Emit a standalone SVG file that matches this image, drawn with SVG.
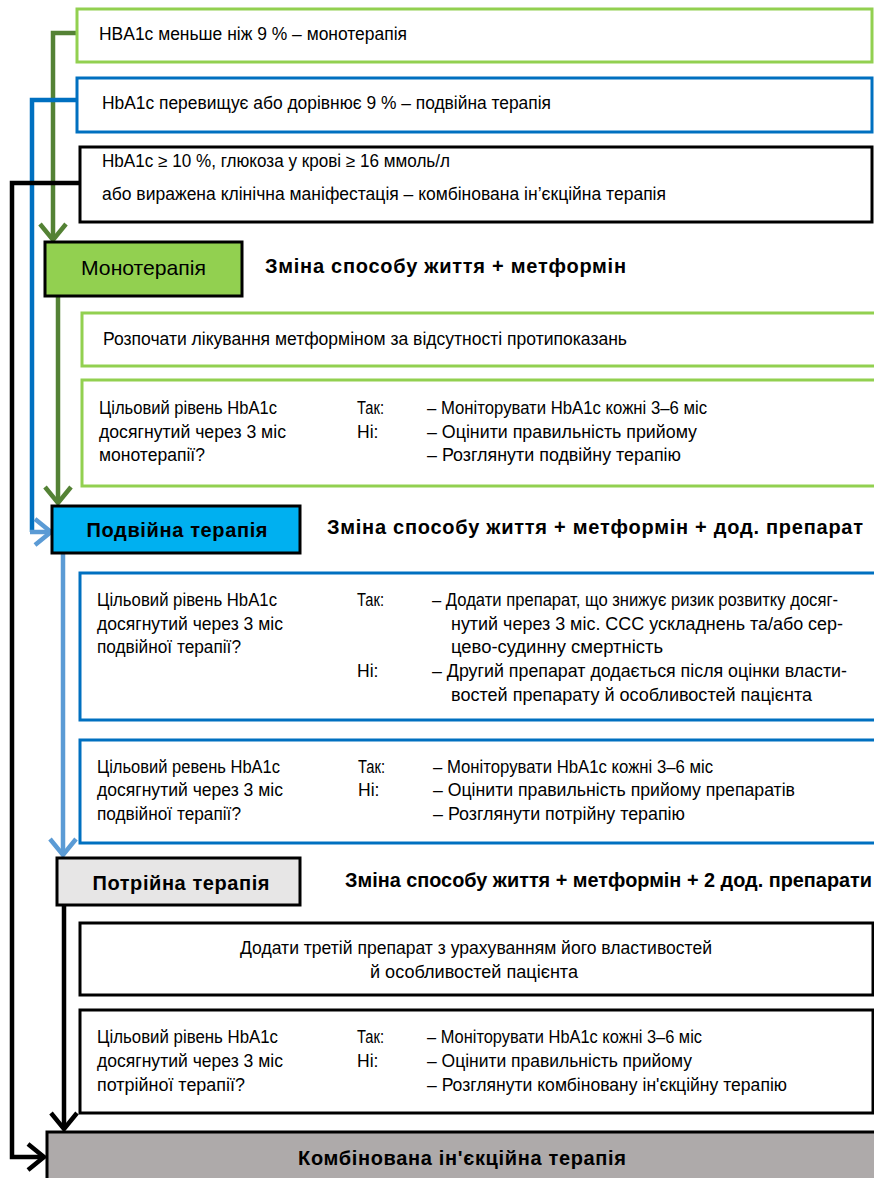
<svg xmlns="http://www.w3.org/2000/svg" width="874" height="1178" viewBox="0 0 874 1178">
<defs>
<style>
text{font-family:"Liberation Sans",Arial,sans-serif;font-size:17.5px;fill:#000}
.b{font-weight:bold;font-size:20px}
.box{fill:#fff;stroke-width:3}
.g{stroke:#92D050}
.bl{stroke:#0070C0}
.k{stroke:#000}
.c{text-anchor:middle}
.ln{fill:none;stroke-width:4.5;stroke-linejoin:miter}
</style>
<marker id="ag" viewBox="0 0 24 30" refX="19" refY="15" markerWidth="24" markerHeight="30" markerUnits="userSpaceOnUse" orient="auto"><path d="M3,2 L19,15 L3,28" fill="none" stroke="#548235" stroke-width="4.5"/></marker>
<marker id="ab" viewBox="0 0 24 30" refX="19" refY="15" markerWidth="24" markerHeight="30" markerUnits="userSpaceOnUse" orient="auto"><path d="M3,2 L19,15 L3,28" fill="none" stroke="#5B9BD5" stroke-width="4.5"/></marker>
<marker id="ak" viewBox="0 0 24 30" refX="19" refY="15" markerWidth="24" markerHeight="30" markerUnits="userSpaceOnUse" orient="auto"><path d="M3,2 L19,15 L3,28" fill="none" stroke="#000" stroke-width="4.5"/></marker>
</defs>
<rect width="874" height="1178" fill="#fff"/>

<g id="connectors">
<path class="ln" d="M77,33 H53 V240" stroke="#548235" marker-end="url(#ag)"/>
<path class="ln" d="M77,100 H32 V532" stroke="#0070C0"/>
<path class="ln" d="M30,532 H51" stroke="#5B9BD5" marker-end="url(#ab)"/>
<path class="ln" d="M80,183 H12 V1157 H44" stroke="#000" marker-end="url(#ak)"/>
<path class="ln" d="M58,296 V503" stroke="#548235" marker-end="url(#ag)"/>
<path class="ln" d="M63,553 V855" stroke="#5B9BD5" marker-end="url(#ab)"/>
<path class="ln" d="M64,905 V1129" stroke="#000" marker-end="url(#ak)"/>
</g>

<g id="cond1">
<rect class="box g" x="77" y="9" width="795" height="53"/>
<text x="99" y="40" textLength="308" lengthAdjust="spacingAndGlyphs">HBA1c меньше ніж 9 % – монотерапія</text>
</g>
<g id="cond2">
<rect class="box bl" x="77" y="78" width="795" height="54"/>
<text x="102" y="109" textLength="449" lengthAdjust="spacingAndGlyphs">HbA1c перевищує або дорівнює 9 % – подвійна терапія</text>
</g>
<g id="cond3">
<rect class="box k" x="80" y="147" width="792" height="75"/>
<text x="102" y="167" textLength="348" lengthAdjust="spacingAndGlyphs">HbA1c ≥ 10 %, глюкоза у крові ≥ 16 ммоль/л</text>
<text x="102" y="200" textLength="564" lengthAdjust="spacingAndGlyphs">або виражена клінічна маніфестація – комбінована ін’єкційна терапія</text>
</g>

<g id="mono">
<rect x="45" y="242" width="197" height="54" fill="#92D050" stroke="#000" stroke-width="3"/>
<text class="c" x="143.5" y="274.5" style="font-size:21px" textLength="125" lengthAdjust="spacingAndGlyphs">Монотерапія</text>
<text class="b" x="265" y="273" textLength="361" lengthAdjust="spacing">Зміна способу життя + метформін</text>
</g>
<g id="mono-start">
<rect class="box g" x="82" y="313" width="800" height="53"/>
<text x="103" y="345" textLength="524" lengthAdjust="spacingAndGlyphs">Розпочати лікування метформіном за відсутності протипоказань</text>
</g>
<g id="mono-check">
<rect class="box g" x="82" y="380" width="800" height="106"/>
<text x="99" y="414" textLength="178" lengthAdjust="spacingAndGlyphs">Цільовий рівень HbA1c</text>
<text x="99" y="438" textLength="187" lengthAdjust="spacingAndGlyphs">досягнутий через 3 міс</text>
<text x="99" y="461" textLength="106" lengthAdjust="spacingAndGlyphs">монотерапії?</text>
<text x="357" y="414" textLength="27" lengthAdjust="spacingAndGlyphs">Так:</text>
<text x="357" y="438">Ні:</text>
<text x="427" y="414" textLength="280" lengthAdjust="spacingAndGlyphs">– Моніторувати HbA1c кожні 3–6 міс</text>
<text x="427" y="438" textLength="270" lengthAdjust="spacingAndGlyphs">– Оцінити правильність прийому</text>
<text x="427" y="461" textLength="254" lengthAdjust="spacingAndGlyphs">– Розглянути подвійну терапію</text>
</g>

<g id="dual">
<rect x="52" y="506" width="248" height="47" fill="#00B0F0" stroke="#000" stroke-width="3"/>
<text class="b c" x="177" y="537" textLength="181" lengthAdjust="spacing">Подвійна терапія</text>
<text class="b" x="327" y="534" textLength="536" lengthAdjust="spacing">Зміна способу життя + метформін + дод. препарат</text>
</g>
<g id="dual-check1">
<rect class="box bl" x="80" y="573" width="800" height="147"/>
<text x="97" y="606" textLength="180" lengthAdjust="spacingAndGlyphs">Цільовий рівень HbA1c</text>
<text x="97" y="630" textLength="186" lengthAdjust="spacingAndGlyphs">досягнутий через 3 міс</text>
<text x="97" y="653" textLength="144" lengthAdjust="spacingAndGlyphs">подвійної терапії?</text>
<text x="357" y="606" textLength="27" lengthAdjust="spacingAndGlyphs">Так:</text>
<text x="432" y="606" textLength="406" lengthAdjust="spacingAndGlyphs">– Додати препарат, що знижує ризик розвитку  досяг-</text>
<text x="451" y="630" textLength="392" lengthAdjust="spacingAndGlyphs">нутий через 3 міс. ССС ускладнень та/або сер-</text>
<text x="451" y="653" textLength="212" lengthAdjust="spacingAndGlyphs">цево-судинну смертність</text>
<text x="357" y="677">Ні:</text>
<text x="432" y="677" textLength="415" lengthAdjust="spacingAndGlyphs">– Другий препарат додається після оцінки власти-</text>
<text x="451" y="701" textLength="361" lengthAdjust="spacingAndGlyphs">востей препарату й особливостей пацієнта</text>
</g>
<g id="dual-check2">
<rect class="box bl" x="80" y="740" width="800" height="103"/>
<text x="97" y="773" textLength="183" lengthAdjust="spacingAndGlyphs">Цільовий ревень HbA1c</text>
<text x="97" y="796" textLength="186" lengthAdjust="spacingAndGlyphs">досягнутий через 3 міс</text>
<text x="97" y="820" textLength="144" lengthAdjust="spacingAndGlyphs">подвійної терапії?</text>
<text x="358" y="773" textLength="27" lengthAdjust="spacingAndGlyphs">Так:</text>
<text x="358" y="796">Ні:</text>
<text x="433" y="773" textLength="280" lengthAdjust="spacingAndGlyphs">– Моніторувати HbA1c кожні 3–6 міс</text>
<text x="433" y="796" textLength="362" lengthAdjust="spacingAndGlyphs">– Оцінити правильність прийому препаратів</text>
<text x="433" y="820" textLength="252" lengthAdjust="spacingAndGlyphs">– Розглянути потрійну терапію</text>
</g>

<g id="triple">
<rect x="57" y="858" width="243" height="47" fill="#E7E6E6" stroke="#000" stroke-width="3"/>
<text class="b c" x="181" y="890" textLength="177" lengthAdjust="spacing">Потрійна терапія</text>
<text class="b" x="345" y="887" textLength="527" lengthAdjust="spacingAndGlyphs">Зміна способу життя + метформін + 2 дод. препарати</text>
</g>
<g id="triple-add">
<rect class="box k" x="80" y="923" width="793" height="72"/>
<text class="c" x="476" y="954" textLength="472" lengthAdjust="spacingAndGlyphs">Додати третій препарат з урахуванням його властивостей</text>
<text class="c" x="474" y="978" textLength="208" lengthAdjust="spacingAndGlyphs">й особливостей пацієнта</text>
</g>
<g id="triple-check">
<rect class="box k" x="80" y="1010" width="793" height="103"/>
<text x="97" y="1043" textLength="181" lengthAdjust="spacingAndGlyphs">Цільовий рівень HbA1c</text>
<text x="97" y="1067" textLength="186" lengthAdjust="spacingAndGlyphs">досягнутий через 3 міс</text>
<text x="97" y="1091" textLength="148" lengthAdjust="spacingAndGlyphs">потрійної терапії?</text>
<text x="357" y="1043" textLength="27" lengthAdjust="spacingAndGlyphs">Так:</text>
<text x="357" y="1067">Ні:</text>
<text x="427" y="1043" textLength="275" lengthAdjust="spacingAndGlyphs">– Моніторувати HbA1c кожні 3–6 міс</text>
<text x="427" y="1067" textLength="265" lengthAdjust="spacingAndGlyphs">– Оцінити правильність прийому</text>
<text x="427" y="1091" textLength="360" lengthAdjust="spacingAndGlyphs">– Розглянути комбіновану ін'єкційну терапію</text>
</g>

<g id="injection">
<rect x="47" y="1132" width="840" height="60" fill="#AEAAAA" stroke="#000" stroke-width="3"/>
<text class="b c" x="462" y="1165" textLength="328" lengthAdjust="spacing">Комбінована ін'єкційна терапія</text>
</g>
</svg>
